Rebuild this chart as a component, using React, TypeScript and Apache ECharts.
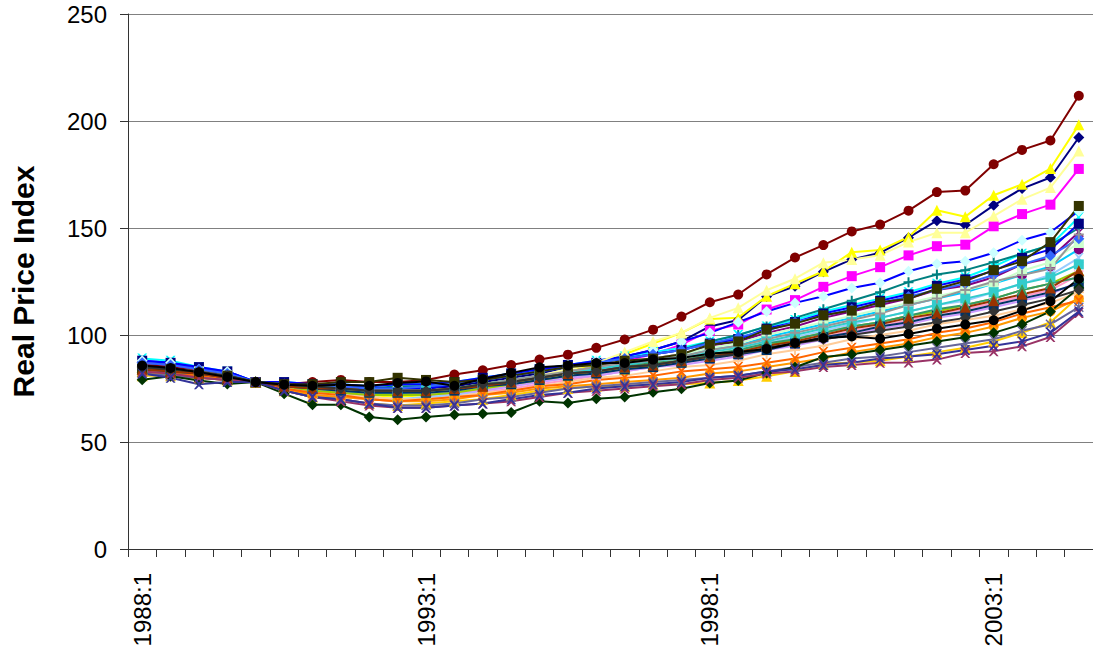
import React, { useEffect, useRef } from "react";
import * as echarts from "echarts";

const periods: string[] = [];
for (let y = 1988; y <= 2004; y++) { periods.push(y + ":1"); periods.push(y + ":2"); }

const yTicks = [0, 50, 100, 150, 200, 250];

const navy = [87,86,84,82,78,77,76,76,75,75,75,76,78,80,82,85,87,90,93,97,104,107,118,122.8,129.5,135.3,138.4,145.5,153.4,151.4,160.6,168.4,173.6,192.3];
const magenta = [85,84,82,80,78,76,74,73,72,72,72,73,75,77,80,83,85,88,91,95.5,102,104.9,111.9,116.3,122.5,127.5,131.7,137.2,141.5,142.2,150.8,156.5,160.9,177.6];
const yellow = [85,84,82,80,78,75,73,73,72,71,72,73,75,77,80,83,86,91,96,101,107.5,108.1,118.1,124,129.8,138.7,139.7,145.8,158.3,155.3,165.3,170.4,177.8,198.2];
const cyanX = [89,88,85,83,78,78,77,77,76,77,77,78,80,82,84,86,88,90,92,94,97,100,104,107,111,114,117,120,124,127,132,138,142,155];
const purpleStar = [86,85,83,81,78,77,76,75,74,74,74,75,77,79,81,83,85,87,89,91,95,97,101,104,108,111,114,117,121,123,127,133,136,148];
const darkRed = [86,85,83,81,78,77,78,79,78,78,79,81.5,83.5,86,88.5,90.8,94,97.9,102.5,108.6,115.3,118.9,128.3,136.2,142,148.4,151.6,158.1,166.8,167.5,179.8,186.5,190.9,211.8];
const tealPlus = [85,84,82,81,78,77,76,76,75,76,76,77,79,81,83,85,87,89,91,93,97,100,104,108,112,116,120,124.7,128.3,130.3,134,138,142,150];
const blue = [88,87,85,83,78,78,77,77,76,77,77,78,80,82,84,86,87,89,91,93,96,98,103,106,110,113,116,119,123,126,130,136,140,152];
const skyBlue = [84,83,82,80,78,76,75,74,73,73,73,74,76,78,80,82,84,86,88,90,93,95,99,102,105,108,111,114,117,120,124,128,132,140];
const lightCyan = [88,87,84,83,78,77,76,76,75,75,75,77,79,81,83,86,88,90,93,97,101,106,111,115,118.1,122,124.4,129.8,133.3,134.5,138.4,144.3,148,158];
const lightGreen = [85,84,83,81,78,76,75,74,74,74,74,75,77,79,81,83,85,87,89,91,94,96,100,103,106,109,112,115,118,121,124,130,134,143];
const lightYellow = [84,83,81,80,78,76,74,74,73,72,73,74,76,78,81,84,87,92,97,101,108,112.7,120.9,126.3,133.8,135.3,137.3,143.4,147.8,147.8,155.6,163.4,168.9,186];
const paleBlue = [83,82,81,79,78,75,73,72,71,70,71,72,74,76,78,80,82,84,86,88,90,92,96,99,102,105,108,111,114,116,120,124,128,136];
const pink = [82,81,80,79,78,75,72,71,70,69,70,71,73,75,77,79,81,83,85,87,89,91,94,96,99,102,104,107,110,112,115,118,121,128];
const lavender = [84,83,81,80,78,76,74,73,72,72,72,73,74,76,78,80,81,83,85,86,88,90,93,95,98,100,103,105,108,110,113,116,119,125];
const peach = [83,82,81,79,78,75,73,72,71,70,70,71,73,74,76,78,80,81,83,85,86,88,91,93,95,98,100,102,105,107,109,112,115,120];
const royal = [87,86,84,82,78,77,76,76,75,75,76,77,79,81,83,85,87,89,91,93,96,99,102,106,109,112,115,118,121,124,128,133,137,145];
const aqua = [84,83,82,80,78,76,75,74,73,73,74,75,77,79,81,82,84,86,88,89,92,94,97,100,103,106,108,111,114,117,120,124,127,133];
const lime = [83,82,81,80,78,76,74,73,72,72,72,73,75,77,79,81,83,84,86,88,90,92,95,98,101,104,106,109,111,114,117,121,124,130];
const gold = [81,81,80,79,78,74,71,70,68,67,68,69,70,72,74,75,76,76,77,77,77.6,78.7,80.7,83,86.5,87.2,88,90,92,94,97,101,106,118];
const orange = [82,81,80,79,78,75,72,71,70,69,69,70,72,73,75,76,77,78,79,80,82,83,85,87,89,92,94,96,99,101,104,108,111,117];
const orangeX = [83,82,81,80,78,75,73,72,70,69,70,71,72,74,76,77,79,80,81,83,84,85,87,89,92,94,96,98,101,103,106,110,113,116];
const slate = [82,81,80,79,78,74,71,70,68,67,67,68,70,71,73,75,76,77,78,79,80,81,83,85,87,89,90,92,94,96,98,102,105,113];
const gray = [85,84,82,81,78,76,75,75,74,74,74,75,77,79,81,83,85,87,88,90,93,95,98,101,104,107,110,114,117,121,125,128,131,147];
const darkBlue = [84,83,82,80,78,76,75,74,73,73,73,74,76,77,79,81,82,84,85,87,89,91,93,96,99,101,104,106,109,111,114,117,120,124];
const seaGreen = [85,84,82,81,78,77,76,75,74,74,74,75,77,78,80,82,83,85,87,88,91,93,96,98,101,104,106,109,112,114,117,121,124,127];
const darkGreen = [79.1,80.7,78.7,77.1,78,72.6,67.4,67.4,61.7,60.4,61.7,62.7,63.2,63.8,69,68.2,70.2,71,73.2,74.9,77.6,78.7,82.3,84.9,89.7,91,93,95,97,99,101,105,111,122];
const darkOlive = [84,84,82,81,78,77,77,78,78,80,79,78,79,81,83,85,86,88,89,91,95.5,97,102.5,105.3,109.2,111.4,115.3,116.9,121.6,125.2,130.3,134.5,143.4,160.3];
const brown = [84,83,82,80,78,76,75,75,74,74,74,75,76,78,80,82,83,85,86,88,90,92,95,97,100,103,105,108,110,113,116,119,122,130];
const plum = [83,82,80,79,78,74,71,69,67,66,66,67,68,69,71,73,74,75,76,77,79,80,82,83,85,86,87,87.2,88.5,91.6,92.4,94.7,99.1,110.3];
const indigo = [82,80,77,78,78,74,71,70,68,66,66,67,68,70,72,73,75,76,77,78,80,81,83,84,86,87,89,90,91,93,95,97,101,111];
const charcoal = [85,84,83,81,78,77,76,75,74,74,74,75,77,78,80,82,83,85,86,88,90,91,94,96,98,100,102,104,106,108,111,114,117,121];
const black = [85.7,84.6,82.6,80.4,78,76.8,76.3,76.8,76.3,77.6,78.3,76.3,79.4,82.3,84.9,85.7,86.9,86.9,88.5,89.3,91.3,92.1,93.5,96.3,98.6,99.3,98.3,100.5,102.9,104.9,106.9,111.4,115.8,126.3];

const X = "path://M0,0L2,0L5,3L8,0L10,0L6,5L10,10L8,10L5,7L2,10L0,10L4,5Z";
const PLUS = "path://M4,0H6V4H10V6H6V10H4V6H0V4H4Z";
const STAR = "path://M0,1L1,0L5,4L9,0L10,1L6,5L10,9L9,10L5,6L1,10L0,9L4,5Z M4.3,0H5.7V10H4.3Z";

type S = [number[], string, string, string?];
const seriesDefs: S[] = [
  [navy, "#000080", "diamond"],
  [magenta, "#FF00FF", "rect"],
  [yellow, "#FFFF00", "triangle"],
  [cyanX, "#00FFFF", X],
  [purpleStar, "#800080", STAR],
  [darkRed, "#800000", "circle"],
  [tealPlus, "#008080", PLUS],
  [blue, "#0000FF", "rect", "#000080"],
  [skyBlue, "#00CCFF", "circle", "#800080"],
  [lightCyan, "#0000FF", "diamond", "#CCFFFF"],
  [lightGreen, "#CCFFCC", "rect"],
  [lightYellow, "#FFFF99", "triangle"],
  [paleBlue, "#99CCFF", X],
  [pink, "#FF99CC", STAR],
  [lavender, "#CC99FF", "circle"],
  [peach, "#FFCC99", PLUS],
  [royal, "#3366FF", "diamond"],
  [aqua, "#33CCCC", "rect"],
  [lime, "#99CC00", "triangle"],
  [gold, "#FFCC00", "triangle"],
  [orange, "#FF9900", "circle"],
  [orangeX, "#FF6600", X],
  [slate, "#666699", STAR],
  [gray, "#969696", PLUS],
  [darkBlue, "#003366", "rect"],
  [seaGreen, "#339966", "triangle"],
  [darkGreen, "#003300", "diamond"],
  [darkOlive, "#333300", "rect"],
  [brown, "#993300", "triangle"],
  [plum, "#993366", X],
  [indigo, "#333399", X],
  [charcoal, "#333333", "diamond"],
  [black, "#000000", "circle"],
];

export default function App() {
  const ref = useRef<HTMLDivElement>(null);
  useEffect(() => {
    if (!ref.current) return;
    const chart = echarts.init(ref.current, undefined, { renderer: "svg" });
    const font = "Liberation Sans, Arial, sans-serif";
    chart.setOption({
      animation: false,
      grid: { left: 126, top: 14, width: 969, height: 535, containLabel: false },
      xAxis: {
        type: "category",
        data: periods,
        boundaryGap: true,
        axisLine: { lineStyle: { color: "#333", width: 1 } },
        axisTick: { show: true, interval: 0, alignWithLabel: false, length: 8, lineStyle: { color: "#333" } },
        axisLabel: { interval: 9, rotate: 90, fontSize: 24, color: "#000", fontFamily: font, margin: 24 },
        splitLine: { show: false },
      },
      yAxis: {
        type: "value",
        min: yTicks[0],
        max: yTicks[yTicks.length - 1],
        interval: 50,
        name: "Real Price Index",
        nameLocation: "middle",
        nameGap: 90,
        nameTextStyle: { fontSize: 30, fontWeight: "bold", color: "#000", fontFamily: font },
        axisLine: { show: true, lineStyle: { color: "#333", width: 1 } },
        axisTick: { show: true, length: 8, lineStyle: { color: "#333" } },
        axisLabel: { fontSize: 24, color: "#000", fontFamily: font, margin: 21 },
        splitLine: { show: true, lineStyle: { color: "#808080", width: 1 } },
      },
      series: seriesDefs.map(([d, c, sym, mc], i) => ({
        type: "line",
        name: "s" + i,
        data: d,
        symbol: sym,
        symbolSize: sym === "circle" ? 10 : sym === "triangle" ? 11 : sym === "diamond" ? 11 : 10,
        showAllSymbol: true,
        lineStyle: { color: c, width: 2 },
        itemStyle: { color: mc || c, borderWidth: 0 },
        emphasis: { disabled: true },
        silent: true,
      })),
    });
    return () => chart.dispose();
  }, []);
  return <div ref={ref} style={{ position: "fixed", left: 0, top: 0, width: 1093, height: 650, background: "#fff" }} />;
}
